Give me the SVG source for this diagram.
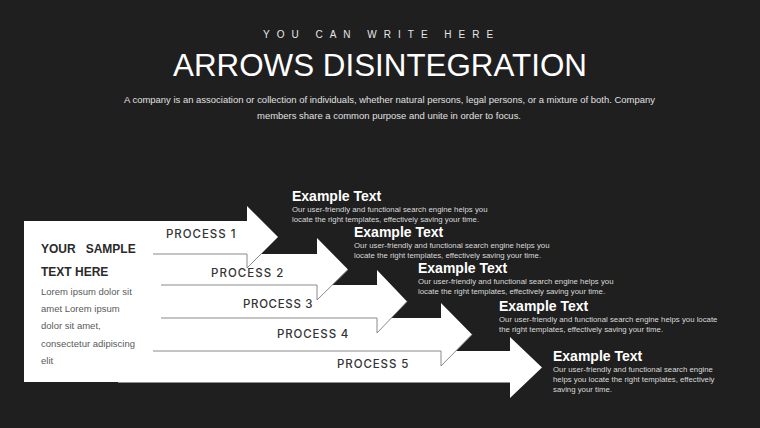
<svg xmlns="http://www.w3.org/2000/svg" width="760" height="428" viewBox="0 0 760 428">
<style>
.bg{fill:#1f1f1f}
.arrow{fill:#ffffff}
.edge{fill:none;stroke:#8a8a8a;stroke-width:1}
.proc{font-family:Inter,"Liberation Sans",sans-serif;font-size:11.5px;font-weight:500;fill:#333333;letter-spacing:0.6px}
.h-title{font-family:"Liberation Sans",Arial,sans-serif;font-size:31.5px;fill:#ffffff}
.h-sub{font-family:"Liberation Sans",Arial,sans-serif;font-size:10px;fill:#e6e6e6;letter-spacing:7px}
.h-par{font-family:"Liberation Sans",Arial,sans-serif;font-size:9px;fill:#e0e0e0}
.ex-t{font-family:"Liberation Sans",Arial,sans-serif;font-size:14px;font-weight:bold;fill:#ffffff}
.ex-b{font-family:"Liberation Sans",Arial,sans-serif;font-size:7.8px;fill:#d9d9d9}
.box-t{font-family:"Liberation Sans",Arial,sans-serif;font-size:12px;font-weight:bold;fill:#2a2a2a;white-space:pre}
.box-b{font-family:"Liberation Sans",Arial,sans-serif;font-size:9.5px;fill:#5a5a5a}
</style>
<rect class="bg" x="0" y="0" width="760" height="428"/>

<g id="header">
  <text class="h-sub" x="263" y="38">YOU CAN WRITE HERE</text>
  <text class="h-title" x="380" y="76" text-anchor="middle" textLength="414" lengthAdjust="spacingAndGlyphs">ARROWS DISINTEGRATION</text>
  <text class="h-par" x="124" y="103" textLength="531" lengthAdjust="spacingAndGlyphs">A company is an association or collection of individuals, whether natural persons, legal persons, or a mixture of both. Company</text>
  <text class="h-par" x="257" y="119" textLength="264" lengthAdjust="spacingAndGlyphs">members share a common purpose and unite in order to focus.</text>
</g>

<g id="sample-box">
  <rect class="arrow" x="24" y="221" width="122" height="161"/>
</g>

<g id="arrow-5">
  <polygon class="arrow" points="118,351 510,351 510,337 542,367.5 510,398 510,382.5 118,382.5"/>
  <text class="proc" x="337" y="368" textLength="72">PROCESS 5</text>
</g>
<g id="arrow-4">
  <polygon class="arrow" points="140,318 441,318 441,303 472,334.5 441,366 441,351 140,351"/>
  <text class="proc" x="277" y="338" textLength="72">PROCESS 4</text>
</g>
<g id="arrow-3">
  <polygon class="arrow" points="140,285 377,285 377,270 407,301.5 377,333 377,318 140,318"/>
  <text class="proc" x="243" y="308" textLength="70">PROCESS 3</text>
</g>
<g id="arrow-2">
  <polygon class="arrow" points="140,254 317,254 317,238 348,269.5 317,300 317,285 140,285"/>
  <text class="proc" x="211" y="277" textLength="73">PROCESS 2</text>
</g>
<g id="arrow-1">
  <polygon class="arrow" points="140,221 247,221 247,206 278,237 247,268 247,254 140,254"/>
  <text class="proc" x="166" y="238" textLength="70">PROCESS 1</text>
</g>

<g id="connectors">
  <polyline class="edge" points="153,254 247,254 247,268 278,237"/>
  <polyline class="edge" points="161,285 317,285 317,300 348,269.5"/>
  <polyline class="edge" points="161,318 377,318 377,333 407,301.5"/>
  <polyline class="edge" points="153,351 441,351 441,366 472,334.5"/>
</g>

<g id="sample-text">
  <text class="box-t" x="41" y="253">YOUR   SAMPLE</text>
  <text class="box-t" x="41" y="276">TEXT HERE</text>
  <text class="box-b" x="41" y="295">Lorem ipsum dolor sit</text>
  <text class="box-b" x="41" y="312">amet Lorem ipsum</text>
  <text class="box-b" x="41" y="329">dolor sit amet,</text>
  <text class="box-b" x="41" y="347">consectetur  adipiscing</text>
  <text class="box-b" x="41" y="364">elit</text>
</g>

<g id="example-1">
  <text class="ex-t" x="292" y="201">Example Text</text>
  <text class="ex-b" x="292" y="212">Our user-friendly and functional search engine helps you</text>
  <text class="ex-b" x="292" y="222">locate the right templates, effectively saving your time.</text>
</g>
<g id="example-2">
  <text class="ex-t" x="354" y="237">Example Text</text>
  <text class="ex-b" x="354" y="248">Our user-friendly and functional search engine helps you</text>
  <text class="ex-b" x="354" y="258">locate the right templates, effectively saving your time.</text>
</g>
<g id="example-3">
  <text class="ex-t" x="418" y="273">Example Text</text>
  <text class="ex-b" x="418" y="284">Our user-friendly and functional search engine helps you</text>
  <text class="ex-b" x="418" y="294">locate the right templates, effectively saving your time.</text>
</g>
<g id="example-4">
  <text class="ex-t" x="499" y="311">Example Text</text>
  <text class="ex-b" x="499" y="322">Our user-friendly and functional search engine helps you locate</text>
  <text class="ex-b" x="499" y="332">the right templates, effectively saving your time.</text>
</g>
<g id="example-5">
  <text class="ex-t" x="553" y="361">Example Text</text>
  <text class="ex-b" x="553" y="372">Our user-friendly and functional search engine</text>
  <text class="ex-b" x="553" y="382">helps you locate the right templates, effectively</text>
  <text class="ex-b" x="553" y="392">saving your time.</text>
</g>
</svg>
